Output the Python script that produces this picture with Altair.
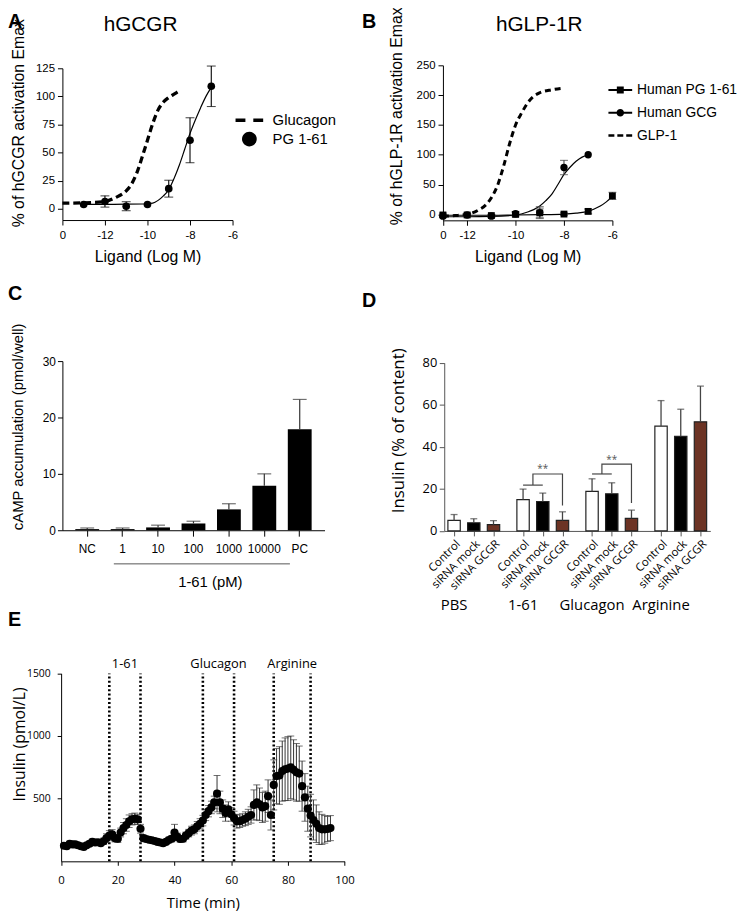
import altair as alt
import pandas as pd

# ============================ DATA ============================
# --- A : hGCGR ---
A_DOSE = [-13, -12, -11, -10, -9, -8, -7]
A_PG = [3.8, 6.5, 2.3, 3.8, 17.9, 61.0, 109.0]
A_PG_ERR = [0.0, 5.0, 4.0, 0.0, 7.5, 20.0, 18.0]
A_PG_FIT_X = [-13, -12, -11, -10, -9.75, -9.5, -9.25, -9, -8.75, -8.5, -8.25, -8, -7.75, -7.5, -7.25, -7]
A_PG_FIT_Y = [4, 4, 4.1, 4.5, 5, 7.5, 11.5, 17, 27, 39, 53, 67, 79, 90, 100, 108]
A_GLU_X = [-14, -13, -12, -11.5, -11, -10.75, -10.5, -10.25, -10, -9.75, -9.5, -9.25, -9, -8.75, -8.5]
A_GLU_Y = [5, 5.3, 6.5, 10, 16, 22, 32, 46, 61, 76, 88, 95, 99, 102, 105]
A_X_TICKS = [-14, -12, -10, -8, -6]
A_X_LABELS = ["0", "-12", "-10", "-8", "-6"]
A_Y_TICKS = [0, 25, 50, 75, 100, 125]
A_LEGEND = ["Glucagon", "PG 1-61"]

# --- B : hGLP-1R ---
B_PG_X = [-13, -12, -11, -10, -9, -8, -7, -6]
B_PG = [-1, -1, -2, 0, 2.5, 0.5, 5, 31]
B_PG_ERR = [3, 3, 2, 4, 8, 2, 4, 6]
B_GCG_X = [-13, -12, -11, -10, -9, -8, -7]
B_GCG = [-3, -1, -3, 1, 3, 78.6, 100]
B_GCG_ERR = [2, 2, 2, 3, 10, 12, 0]
B_PG_FIT_X = [-13, -12, -11, -10, -9, -8, -7.5, -7, -6.75, -6.5, -6.25, -6]
B_PG_FIT_Y = [-1.5, -1.5, -1.5, -1, -0.5, 0.5, 2, 5, 9, 14, 21, 30]
B_GCG_FIT_X = [-13, -12, -11, -10, -9.5, -9.25, -9, -8.75, -8.5, -8.25, -8, -7.75, -7.5, -7.25, -7]
B_GCG_FIT_Y = [-4, -4, -3.5, -1, 4, 8, 14, 23, 34, 50, 67, 79, 89, 96, 100]
B_GLP_X = [-13, -12.5, -12, -11.5, -11.25, -11, -10.75, -10.5, -10.25, -10, -9.75, -9.5, -9.25, -9, -8.5, -8]
B_GLP_Y = [-3, -2, 0, 8, 15, 28, 48, 80, 118, 150, 170, 187, 198, 204, 209, 212]
B_X_TICKS = [-13, -12, -10, -8, -6]
B_X_LABELS = ["0", "-12", "-10", "-8", "-6"]
B_Y_TICKS = [0, 50, 100, 150, 200, 250]
B_LEGEND = ["Human PG 1-61", "Human GCG", "GLP-1"]

# --- C : cAMP ---
C_CATS = ["NC", "1", "10", "100", "1000", "10000", "PC"]
C_VALS = [0.2, 0.2, 0.5, 1.2, 3.7, 7.9, 17.9]
C_ERR = [0.2, 0.2, 0.4, 0.4, 1.0, 2.1, 5.3]
C_Y_TICKS = [0, 10, 20, 30]

# --- D : insulin secretion, siRNA ---
D_GROUPS = ["PBS", "1-61", "Glucagon", "Arginine"]
D_TREATS = ["Control", "siRNA mock", "siRNA GCGR"]
D_COLORS = ["white", "black", "#6c3324"]
D_PBS = [5.0, 3.9, 3.0]
D_PBS_ERR = [2.8, 1.9, 1.9]
D_161 = [14.9, 14.0, 5.0]
D_161_ERR = [5.0, 4.0, 4.1]
D_GLUC = [18.8, 17.7, 6.0]
D_GLUC_ERR = [6.0, 5.2, 3.9]
D_ARG = [49.9, 45.0, 51.9]
D_ARG_ERR = [12.1, 12.9, 17.0]
D_Y_TICKS = [0, 20, 40, 60, 80]
D_SIG_GROUPS = ["1-61", "Glucagon"]
D_SIG_LOW = [21.8, 27.1]
D_SIG_TOP = [27.1, 31.8]
D_SIG_END = [12.1, 13.3]
D_SIG_STAR = [31.0, 35.3]

# --- E : perfusion ---
E_TIME = [1, 2, 3, 4, 5, 6, 7, 8, 9, 10, 11, 12, 13, 14, 15, 16, 17, 18, 19, 20,
          21, 22, 23, 24, 25, 26, 27, 28, 29, 30, 31, 32, 33, 34, 35, 36, 37, 38, 39, 40,
          41, 42, 43, 44, 45, 46, 47, 48, 49, 50, 51, 52, 53, 54, 55, 56, 57, 58, 59, 60,
          61, 62, 63, 64, 65, 66, 67, 68, 69, 70, 71, 72, 73, 74, 75, 76, 77, 78, 79, 80,
          81, 82, 83, 84, 85, 86, 87, 88, 89, 90, 91, 92, 93, 94, 95]
E_INS = [124, 120, 140, 135, 135, 128, 120, 115, 128, 140,
         155, 150, 152, 145, 160, 185, 205, 215, 185, 180,
         230, 265, 290, 320, 335, 340, 335, 260, 185, 178,
         172, 168, 162, 155, 150, 145, 155, 170, 180, 230,
         195, 178, 180, 205, 225, 245, 255, 280, 300, 325,
         370, 400, 430, 470, 540, 470, 420, 385, 415, 375,
         345, 320, 320, 330, 340, 355, 370, 450, 470, 455,
         430, 440, 520, 370, 610, 680, 685, 720, 735, 740,
         750, 730, 710, 700, 600, 510, 420, 365, 330, 300,
         265, 255, 255, 258, 265]
E_ERR = [18, 15, 20, 18, 16, 15, 15, 14, 18, 20,
         22, 18, 20, 18, 25, 35, 40, 38, 30, 30,
         35, 45, 50, 50, 45, 45, 40, 35, 25, 20,
         18, 18, 18, 16, 16, 18, 20, 22, 25, 65,
         30, 25, 25, 28, 30, 35, 35, 38, 40, 42,
         45, 45, 50, 50, 145, 90, 70, 65, 60, 55,
         55, 55, 50, 50, 55, 60, 65, 120, 140, 130,
         120, 120, 130, 120, 200, 220, 230, 240, 250, 255,
         250, 240, 230, 220, 200, 190, 180, 170, 160, 150,
         130, 120, 110, 100, 100]
E_STIM = ["1-61", "Glucagon", "Arginine"]
E_STIM_START = [17, 50, 75]
E_STIM_END = [28, 61, 88]
E_X_TICKS = [0, 20, 40, 60, 80, 100]
E_Y_TICKS = [500, 1000, 1500]

PANEL_LABELS = ["A", "B", "C", "D", "E"]
PANEL_TITLES = ["hGCGR", "hGLP-1R"]

# ============================ LAYOUT / STYLE ============================
W, H = 739, 906
SANS = "Liberation Sans"
OPEN = "Open Sans"

# legend symbols (custom paths)
DASH_A = "M-1.33,-0.16H-0.38V0.16H-1.33Z M0.38,-0.16H1.33V0.16H0.38Z"
CIRC_A = "M0.71,0A0.71,0.71,0,1,1,-0.71,0A0.71,0.71,0,1,1,0.71,0Z"
SQ_LINE = "M-1.2,-0.1H1.2V0.1H-1.2Z M-0.35,-0.35H0.35V0.35H-0.35Z"
CI_LINE = "M-1.2,-0.1H1.2V0.1H-1.2Z M0.38,0A0.38,0.38,0,1,1,-0.38,0A0.38,0.38,0,1,1,0.38,0Z"
DASH_B = "M-1.2,-0.12H-0.6V0.12H-1.2Z M-0.3,-0.12H0.3V0.12H-0.3Z M0.6,-0.12H1.2V0.12H0.6Z"


def lab_expr(vals, labs):
    e = "datum.label"
    for v, l in zip(reversed(vals), reversed(labs)):
        e = f"datum.value == {v} ? '{l}' : ({e})"
    return e


def axis(orient, at, font, lfs, **kw):
    off = -at if orient == "left" else at - H
    base = dict(orient=orient, offset=off, grid=False, labelFont=font, labelFontSize=lfs,
                labelColor="black", titleFont=font, titleFontWeight="normal",
                titleColor="black", domainColor="black", tickColor="black",
                domainWidth=1, tickWidth=1, tickSize=5, labelFlush=False,
                labelOverlap=False)
    base.update(kw)
    return alt.Axis(**base)


def text_chart(txt, **mk):
    return alt.Chart(pd.DataFrame({"t": [txt]})).mark_text(**mk).encode(text="t:N")


# ============================ PANEL A ============================
SXA = alt.Scale(domain=[-14, -6], range=[55, 227], nice=False, zero=False)
SYA = alt.Scale(domain=[-10, 125], range=[209.4, 56], nice=False, zero=False)
AXA = axis("bottom", 209.4, SANS, 11.5, values=A_X_TICKS,
           labelExpr=lab_expr(A_X_TICKS, A_X_LABELS), labelPadding=4.5,
           title="Ligand (Log M)", titleFontSize=16, titleY=28.5, titleBaseline="top")
AYA = axis("left", 55, SANS, 11.5, values=A_Y_TICKS, labelPadding=3,
           title="% of hGCGR  activation Emax", titleFontSize=16, titleX=-36.5,
           titleY=111, titleBaseline="bottom")


def xa(f):
    return alt.X(f, type="quantitative", scale=SXA, axis=AXA)


def ya(f):
    return alt.Y(f, type="quantitative", scale=SYA, axis=AYA)


dfA = pd.DataFrame({"x": A_DOSE, "y": A_PG, "err": A_PG_ERR})
dfA["lo"] = dfA["y"] - dfA["err"]
dfA["hi"] = dfA["y"] + dfA["err"]

a_glu = alt.Chart(pd.DataFrame({"x": A_GLU_X, "y": A_GLU_Y})).mark_line(
    color="black", strokeWidth=3.3, strokeDash=[7, 4], interpolate="monotone"
).encode(x=xa("x"), y=ya("y"))
a_fit = alt.Chart(pd.DataFrame({"x": A_PG_FIT_X, "y": A_PG_FIT_Y})).mark_line(
    color="black", strokeWidth=1.2, interpolate="monotone"
).encode(x=xa("x"), y=ya("y"))
a_src = alt.Chart(dfA).transform_filter("datum.err > 0")
a_err = a_src.mark_rule(color="black", strokeWidth=1.1).encode(x=xa("x"), y=ya("lo"), y2="hi")
a_cap1 = a_src.mark_tick(color="black", thickness=1.1, size=9, orient="horizontal").encode(x=xa("x"), y=ya("hi"))
a_cap2 = a_src.mark_tick(color="black", thickness=1.1, size=9, orient="horizontal").encode(x=xa("x"), y=ya("lo"))
a_pts = alt.Chart(dfA).mark_point(filled=True, size=60, color="black", opacity=1).encode(x=xa("x"), y=ya("y"))
a_leg = alt.Chart(pd.DataFrame({"s": A_LEGEND})).mark_point(
    filled=True, color="black", opacity=1, size=441
).encode(
    x=alt.value(-300), y=alt.value(-300),
    shape=alt.Shape("s:N", scale=alt.Scale(domain=A_LEGEND, range=[DASH_A, CIRC_A]),
                    legend=alt.Legend(title=None, orient="none", legendX=233.5, legendY=98,
                                      symbolSize=441, symbolFillColor="black",
                                      symbolStrokeWidth=0, labelFont=SANS, labelFontSize=15,
                                      labelColor="black", labelOffset=13, rowPadding=0,
                                      padding=0, labelLimit=400)))
panelA = alt.layer(a_glu, a_fit, a_err, a_cap1, a_cap2, a_pts, a_leg)

# ============================ PANEL B ============================
SXB = alt.Scale(domain=[-13, -6], range=[439.7, 611], nice=False, zero=False)
SYB = alt.Scale(domain=[-10, 250], range=[209.7, 53], nice=False, zero=False)
AXB = axis("bottom", 209.7, SANS, 11.5, values=B_X_TICKS,
           labelExpr=lab_expr(B_X_TICKS, B_X_LABELS), labelPadding=4.5,
           title="Ligand (Log M)", titleFontSize=16, titleY=28.5, titleBaseline="top")
AYB = axis("left", 439.7, SANS, 11.5, values=B_Y_TICKS, labelPadding=3,
           title="% of hGLP-1R  activation Emax", titleFontSize=16, titleX=-38.7,
           titleY=104, titleBaseline="bottom")


def xb(f):
    return alt.X(f, type="quantitative", scale=SXB, axis=AXB)


def yb(f):
    return alt.Y(f, type="quantitative", scale=SYB, axis=AYB)


dfBp = pd.DataFrame({"x": B_PG_X, "y": B_PG, "err": B_PG_ERR})
dfBg = pd.DataFrame({"x": B_GCG_X, "y": B_GCG, "err": B_GCG_ERR})
for d in (dfBp, dfBg):
    d["lo"] = d["y"] - d["err"]
    d["hi"] = d["y"] + d["err"]

b_glp = alt.Chart(pd.DataFrame({"x": B_GLP_X, "y": B_GLP_Y})).mark_line(
    color="black", strokeWidth=3, strokeDash=[6, 4], interpolate="monotone"
).encode(x=xb("x"), y=yb("y"))
b_fit_g = alt.Chart(pd.DataFrame({"x": B_GCG_FIT_X, "y": B_GCG_FIT_Y})).mark_line(
    color="black", strokeWidth=1.2, interpolate="monotone").encode(x=xb("x"), y=yb("y"))
b_fit_p = alt.Chart(pd.DataFrame({"x": B_PG_FIT_X, "y": B_PG_FIT_Y})).mark_line(
    color="black", strokeWidth=1.2, interpolate="monotone").encode(x=xb("x"), y=yb("y"))
b_layers = [b_glp, b_fit_g, b_fit_p]
for d in (dfBp, dfBg):
    src = alt.Chart(d).transform_filter("datum.err > 0")
    b_layers.append(src.mark_rule(color="#444", strokeWidth=1.1).encode(x=xb("x"), y=yb("lo"), y2="hi"))
    b_layers.append(src.mark_tick(color="#444", thickness=1.1, size=8, orient="horizontal").encode(x=xb("x"), y=yb("hi")))
    b_layers.append(src.mark_tick(color="#444", thickness=1.1, size=8, orient="horizontal").encode(x=xb("x"), y=yb("lo")))
b_layers.append(alt.Chart(dfBp).mark_point(filled=True, shape="square", size=48, color="black", opacity=1).encode(x=xb("x"), y=yb("y")))
b_layers.append(alt.Chart(dfBg).mark_point(filled=True, shape="circle", size=55, color="black", opacity=1).encode(x=xb("x"), y=yb("y")))
b_layers.append(alt.Chart(pd.DataFrame({"s": B_LEGEND})).mark_point(
    filled=True, color="black", opacity=1, size=400
).encode(
    x=alt.value(-300), y=alt.value(-300),
    shape=alt.Shape("s:N", scale=alt.Scale(domain=B_LEGEND, range=[SQ_LINE, CI_LINE, DASH_B]),
                    legend=alt.Legend(title=None, orient="none", legendX=609, legendY=68,
                                      symbolSize=400, symbolFillColor="black",
                                      symbolStrokeWidth=0, labelFont=SANS, labelFontSize=14,
                                      labelColor="black", labelOffset=7, rowPadding=6,
                                      padding=0, labelLimit=400))))
panelB = alt.layer(*b_layers)

# ============================ PANEL C ============================
SXC = alt.Scale(type="band", domain=C_CATS, range=[55, 320], paddingInner=0.327,
                paddingOuter=0.364, round=False)
SYC = alt.Scale(domain=[0, 30], range=[523, 352], nice=False)
AXC = axis("bottom", 523, SANS, 12, labelAngle=0, tickSize=6, labelPadding=8,
           title="1-61 (pM)", titleFontSize=15, titleX=204, titleY=45, titleBaseline="top")
AYC = axis("left", 55, SANS, 12, values=C_Y_TICKS, labelPadding=2,
           title="cAMP accumulation (pmol/well)", titleFontSize=15, titleX=-37.5,
           titleY=418, titleBaseline="bottom")


def xc(f):
    return alt.X(f, type="nominal", sort=C_CATS, scale=SXC, axis=AXC)


def yc(f):
    return alt.Y(f, type="quantitative", scale=SYC, axis=AYC)


dfC = pd.DataFrame({"cat": C_CATS, "v": C_VALS, "err": C_ERR})
dfC["hi"] = dfC["v"] + dfC["err"]
c_bar = alt.Chart(dfC).mark_bar(color="black").encode(x=xc("cat"), y=yc("v"))
c_err = alt.Chart(dfC).mark_rule(color="#333", strokeWidth=1.2).encode(x=xc("cat"), y=yc("v"), y2="hi")
c_cap = alt.Chart(dfC).mark_tick(color="#333", thickness=1.2, size=14).encode(x=xc("cat"), y=yc("hi"))
c_line = alt.Chart(pd.DataFrame({"k": [0]})).mark_rule(color="#555", strokeWidth=1).encode(
    x=alt.value(107), x2=alt.value(285), y=alt.value(557))
panelC = alt.layer(c_bar, c_err, c_cap, c_line)

# ============================ PANEL D ============================
D_SLOTS = []
for gi, g in enumerate(D_GROUPS):
    D_SLOTS += [f"{g}|Control", f"{g}|cm", f"{g}|siRNA mock", f"{g}|mg", f"{g}|siRNA GCGR"]
    if gi < len(D_GROUPS) - 1:
        D_SLOTS += [f"{g}|gap1", f"{g}|gap2"]
D_BAR_SLOTS = [f"{g}|{t}" for g in D_GROUPS for t in D_TREATS]

SXD = alt.Scale(type="point", domain=D_SLOTS, range=[441, 710], padding=1.57, round=False)
SYD = alt.Scale(domain=[0, 80], range=[523.7, 353.7], nice=False)
AXD = axis("bottom", 523.7, OPEN, 11.5, values=D_BAR_SLOTS,
           labelExpr="split(datum.value, '|')[1]", labelAngle=-45, labelAlign="right",
           labelBaseline="top", labelPadding=2, domainColor="#555", tickColor="#555",
           title=None)
AYD = axis("left", 441, OPEN, 13, values=D_Y_TICKS, labelPadding=2.5,
           domainColor="#555", tickColor="#555",
           title="Insulin (% of content)", titleFontSize=17, titleX=-37.3, titleY=422,
           titleBaseline="bottom")


def xd(f):
    return alt.X(f, type="nominal", scale=SXD, axis=AXD)


def yd(f):
    return alt.Y(f, type="quantitative", scale=SYD, axis=AYD)


rows = []
for g, vals, errs in zip(D_GROUPS, [D_PBS, D_161, D_GLUC, D_ARG],
                         [D_PBS_ERR, D_161_ERR, D_GLUC_ERR, D_ARG_ERR]):
    for t, v, e in zip(D_TREATS, vals, errs):
        rows.append({"slot": f"{g}|{t}", "treat": t, "v": v, "hi": v + e})
dfD = pd.DataFrame(rows)

brk = []
for g, lo, top, end in zip(D_SIG_GROUPS, D_SIG_LOW, D_SIG_TOP, D_SIG_END):
    brk += [{"seg": g + "a", "o": 0, "slot": f"{g}|Control", "y": lo},
            {"seg": g + "a", "o": 1, "slot": f"{g}|siRNA mock", "y": lo},
            {"seg": g + "b", "o": 0, "slot": f"{g}|cm", "y": lo},
            {"seg": g + "b", "o": 1, "slot": f"{g}|cm", "y": top},
            {"seg": g + "b", "o": 2, "slot": f"{g}|siRNA GCGR", "y": top},
            {"seg": g + "b", "o": 3, "slot": f"{g}|siRNA GCGR", "y": end}]
dfBrk = pd.DataFrame(brk)
dfStar = pd.DataFrame({"slot": [f"{g}|siRNA mock" for g in D_SIG_GROUPS], "y": D_SIG_STAR,
                       "t": ["**"] * len(D_SIG_GROUPS)})
dfGrp = pd.DataFrame({"slot": [f"{g}|Control" for g in D_GROUPS], "g": D_GROUPS})

d_bar = alt.Chart(dfD).mark_bar(width=12.5, stroke="#222", strokeWidth=1.2).encode(
    x=xd("slot"), y=yd("v"),
    color=alt.Color("treat:N", scale=alt.Scale(domain=D_TREATS, range=D_COLORS), legend=None))
d_err = alt.Chart(dfD).mark_rule(color="#444", strokeWidth=1.3).encode(x=xd("slot"), y=yd("v"), y2="hi")
d_cap = alt.Chart(dfD).mark_tick(color="#444", thickness=1.3, size=7).encode(x=xd("slot"), y=yd("hi"))
d_brk = alt.Chart(dfBrk).mark_line(color="#444", strokeWidth=1.2).encode(
    x=xd("slot"), y=yd("y"), detail="seg:N", order="o:Q")
d_star = alt.Chart(dfStar).mark_text(font=OPEN, fontSize=10, color="#555", baseline="middle", dy=3).encode(
    x=xd("slot"), y=yd("y"), text="t:N")
d_grp = alt.Chart(dfGrp).mark_text(font=OPEN, fontSize=15, color="black", baseline="alphabetic").encode(
    x=xd("slot"), y=alt.value(604), text="g:N")
panelD = alt.layer(d_bar, d_err, d_cap, d_brk, d_star, d_grp)

# ============================ PANEL E ============================
SXE = alt.Scale(domain=[0, 100], range=[53.7, 340.3], nice=False, zero=False)
SYE = alt.Scale(domain=[0, 1500], range=[857.7, 667.7], nice=False)
AXE = axis("bottom", 857.7, OPEN, 11.5, values=E_X_TICKS, tickSize=4, labelPadding=9.5,
           title="Time (min)", titleFontSize=15, titleY=35, titleBaseline="top", format="d")
AYE = axis("left", 53.7, OPEN, 10.5, values=E_Y_TICKS, tickSize=4, labelPadding=7,
           title="Insulin (pmol/L)", titleFontSize=16, titleX=-34.5, titleY=739,
           titleBaseline="bottom", format="d")


def xe(f):
    return alt.X(f, type="quantitative", scale=SXE, axis=AXE)


def ye(f):
    return alt.Y(f, type="quantitative", scale=SYE, axis=AYE)


dfE = pd.DataFrame({"t": E_TIME, "v": E_INS, "err": E_ERR})
dfE["lo"] = dfE["v"] - dfE["err"]
dfE["hi"] = dfE["v"] + dfE["err"]
dfStim = pd.DataFrame({"lab": E_STIM, "s": E_STIM_START, "e": E_STIM_END})
dfLines = pd.DataFrame({"x": E_STIM_START + E_STIM_END})

e_lines = alt.Chart(dfLines).mark_rule(color="black", strokeWidth=2.6, strokeDash=[2, 2.3]).encode(
    x=xe("x"), y=alt.YDatum(0, scale=SYE, axis=AYE), y2=alt.datum(1500))
e_err = alt.Chart(dfE).mark_rule(color="#333", strokeWidth=1).encode(x=xe("t"), y=ye("lo"), y2="hi")
e_cap1 = alt.Chart(dfE).mark_tick(color="#333", thickness=1, size=7, orient="horizontal").encode(x=xe("t"), y=ye("hi"))
e_cap2 = alt.Chart(dfE).mark_tick(color="#333", thickness=1, size=7, orient="horizontal").encode(x=xe("t"), y=ye("lo"))
e_pts = alt.Chart(dfE).mark_point(filled=True, size=68, color="black", opacity=1).encode(x=xe("t"), y=ye("v"))
e_lab = alt.Chart(dfStim).transform_calculate(mid="(datum.s + datum.e) / 2").mark_text(
    font=OPEN, fontSize=13, color="black", baseline="alphabetic", dy=-5
).encode(x=xe("mid"), y=alt.YDatum(1500, scale=SYE, axis=AYE), text="lab:N")
panelE = alt.layer(e_lines, e_err, e_cap1, e_cap2, e_pts, e_lab)

# ============================ ANNOTATIONS ============================
lab_style = dict(font=SANS, fontSize=20, fontWeight="bold", color="black", align="left", baseline="alphabetic")
texts = [
    text_chart(PANEL_LABELS[0], x=0, y=15, **lab_style),
    text_chart(PANEL_LABELS[1], x=358, y=15, **lab_style),
    text_chart(PANEL_LABELS[2], x=0, y=290, **lab_style),
    text_chart(PANEL_LABELS[3], x=358, y=297, **lab_style),
    text_chart(PANEL_LABELS[4], x=0, y=620, **lab_style),
    text_chart(PANEL_TITLES[0], x=134, y=18, font=SANS, fontSize=21, color="black", align="center", baseline="alphabetic"),
    text_chart(PANEL_TITLES[1], x=537, y=18, font=SANS, fontSize=21, color="black", align="center", baseline="alphabetic"),
]

chart = alt.layer(panelA, panelB, panelC, panelD, panelE, *texts).resolve_scale(
    x="independent", y="independent", shape="independent", color="independent"
).resolve_axis(x="independent", y="independent").properties(
    width=W, height=H, autosize=alt.AutoSizeParams(type="none"), padding=0
).configure_view(strokeWidth=0)

chart.save("out.html", embed_options={"renderer": "svg", "actions": False})
